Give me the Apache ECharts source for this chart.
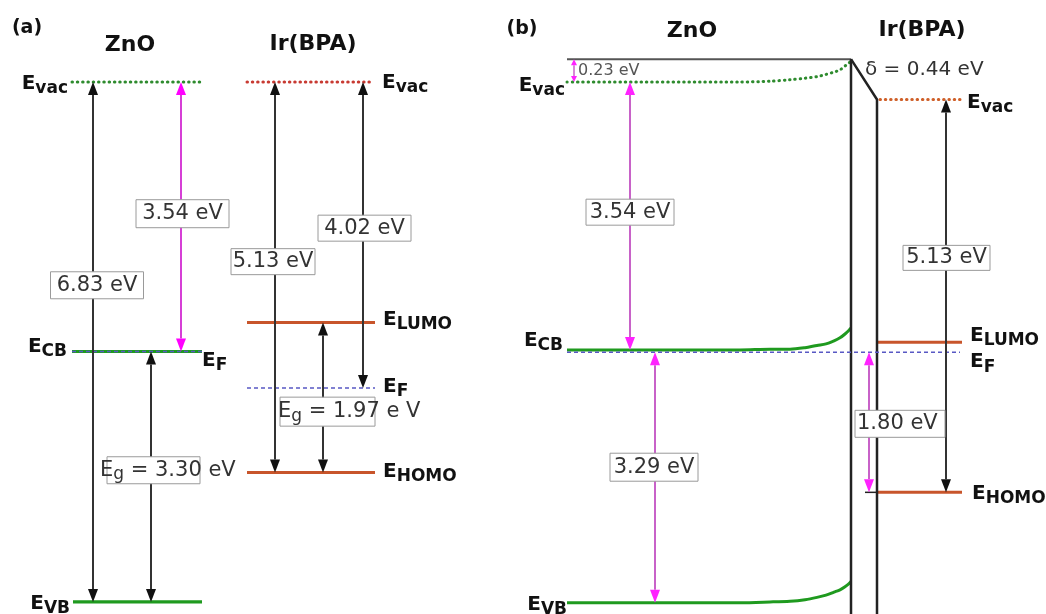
<!DOCTYPE html>
<html><head><meta charset="utf-8">
<script src="https://cdn.jsdelivr.net/npm/echarts@6/dist/echarts.min.js"></script>
<style>html,body{margin:0;padding:0;background:#fff}#c{width:1046px;height:614px}</style>
</head><body><div id="c"></div>
<script>
// ---------------- DATA (energies in eV, relative to the ZnO vacuum level) ----------------
// Panel (a): isolated materials
const aZnOLevels = [0, -3.54, -3.54, -6.83];   // Evac, ECB, EF, EVB
const aIrLevels  = [0, -3.16, -4.02, -5.13];   // Evac, ELUMO, EF, EHOMO
// Panel (b): after contact
const bSurfaceVac = 0.30;                       // vacuum level at the interface
const bBendX   = [567, 740, 770, 790, 805, 817, 826, 834, 840, 845, 849, 851];
const bZnOEvac = [0, 0, 0.01, 0.03, 0.05, 0.07, 0.10, 0.13, 0.16, 0.21, 0.25, 0.28];
const bZnOEcb  = [-3.52, -3.52, -3.51, -3.51, -3.49, -3.46, -3.44, -3.40, -3.36, -3.31, -3.26, -3.23];
const bZnOEvb  = [-6.84, -6.84, -6.83, -6.82, -6.80, -6.77, -6.74, -6.70, -6.67, -6.63, -6.59, -6.56];
const bEf      = -3.55;
const bIrLevels = [-0.23, -3.42, -5.39];        // Evac, ELUMO, EHOMO
// Annotation texts
const gapTextsA = ['6.83 eV', '3.54 eV', ' = 3.30 eV', '5.13 eV', '4.02 eV', ' = 1.97 e V'];
const gapTextsB = ['3.54 eV', '3.29 eV', '5.13 eV', '1.80 eV'];
const smallTextsB = ['0.23 eV', 'δ = 0.44 eV'];
const titles = ['(a)', 'ZnO', 'Ir(BPA)', '(b)', 'ZnO', 'Ir(BPA)'];

// ---------------- LAYOUT / STYLE ----------------
const W = 1046, H = 614, PX_PER_EV = 76.13, VAC_Y = 82;
const Y_MAX = VAC_Y / PX_PER_EV, Y_MIN = -(H - VAC_Y) / PX_PER_EV;
const F = "'DejaVu Sans', 'Liberation Sans', sans-serif";
const GREEN = '#1f9a1f', GREEN_DOT = '#2e8b2e', ORANGE = '#c8552b', RED_DOT = '#c83a32',
      ORANGE_DOT = '#cf5f28', BLUE = '#5858c4', BLACK = '#222';
const MAG_A = {line: '#d63fd6', head: '#f0f'}, MAG_B = {line: '#c862c8', head: '#f2f'},
      BLK = {line: '#333', head: '#111'};

const solid = (c, w) => ({color: c, width: w});
const dotted = c => ({color: c, width: 3, type: [0.5, 4.8], cap: 'round'});
const dashed = c => ({color: c, width: 1.6, type: [4, 3]});

function lineS(data, style, z, smooth) {
  return {type: 'line', data, symbol: 'none', lineStyle: style, silent: true, animation: false,
          z: z || 2, smooth: smooth ? 0.3 : false, clip: false};
}
function hline(x1, x2, e, style, z) { return lineS([[x1, e], [x2, e]], style, z); }

const series = [];
// ---- panel (a) levels
series.push(hline(72, 202, aZnOLevels[0], dotted(GREEN_DOT)));
series.push(hline(72, 202, aZnOLevels[1], solid(GREEN, 3)));
series.push(hline(72, 202, aZnOLevels[2], dashed(BLUE), 3));
series.push(hline(73, 202, aZnOLevels[3], solid(GREEN, 3.2)));
series.push(hline(247, 374, aIrLevels[0], dotted(RED_DOT)));
series.push(hline(247, 375, aIrLevels[1], solid(ORANGE, 3)));
series.push(hline(247, 375, aIrLevels[2], dashed(BLUE), 3));
series.push(hline(247, 375, aIrLevels[3], solid(ORANGE, 3)));
// ---- panel (b) levels
series.push(hline(567, 851, bSurfaceVac, solid('#555', 2)));
series.push(lineS(bBendX.map((x, i) => [x, bZnOEvac[i]]), dotted(GREEN_DOT), 2, true));
series.push(lineS(bBendX.map((x, i) => [x, bZnOEcb[i]]), solid(GREEN, 3), 2, true));
series.push(lineS(bBendX.map((x, i) => [x, bZnOEvb[i]]), solid(GREEN, 3), 2, true));
series.push(lineS([[851, bSurfaceVac], [851, Y_MIN]], solid(BLACK, 2.5), 4));
series.push(lineS([[851, bSurfaceVac], [877, bIrLevels[0]], [877, Y_MIN]], solid(BLACK, 2.5), 4));
series.push(hline(880, 960, bIrLevels[0], dotted(ORANGE_DOT)));
series.push(hline(878, 962, bIrLevels[1], solid(ORANGE, 3)));
series.push(hline(878, 962, bIrLevels[2], solid(ORANGE, 3)));
series.push(hline(865, 877, bIrLevels[2], solid(BLACK, 1.5)));
series.push(hline(567, 960, bEf, dashed(BLUE), 5));

// ---- arrows (double headed)
const arrows = [
  {x: 93,  e1: aZnOLevels[0], e2: aZnOLevels[3], c: BLK},
  {x: 181, e1: aZnOLevels[0], e2: aZnOLevels[1], c: MAG_A},
  {x: 151, e1: aZnOLevels[1], e2: aZnOLevels[3], c: BLK},
  {x: 275, e1: aIrLevels[0], e2: aIrLevels[3], c: BLK},
  {x: 363, e1: aIrLevels[0], e2: aIrLevels[2], c: BLK},
  {x: 323, e1: aIrLevels[1], e2: aIrLevels[3], c: BLK},
  {x: 574, e1: bSurfaceVac, e2: bZnOEvac[0], c: MAG_B, small: true},
  {x: 630, e1: bZnOEvac[0], e2: bZnOEcb[0], c: MAG_B},
  {x: 655, e1: bEf, e2: bZnOEvb[0], c: MAG_B},
  {x: 946, e1: bIrLevels[0], e2: bIrLevels[2], c: BLK},
  {x: 869, e1: bEf, e2: bIrLevels[2], c: MAG_B}
];
function head(p, q, L, Wd) {
  const dx = p[0] - q[0], dy = p[1] - q[1], len = Math.hypot(dx, dy) || 1;
  const ux = dx / len, uy = dy / len, bx = p[0] - ux * L, by = p[1] - uy * L;
  const nx = -uy * Wd / 2, ny = ux * Wd / 2;
  return [[p[0], p[1]], [bx + nx, by + ny], [bx - nx, by - ny]];
}
series.push({
  type: 'custom', silent: true, animation: false, z: 6, clip: false,
  data: arrows.map(a => [a.x, a.e1, a.e2]),
  encode: {x: 0, y: [1, 2]},
  renderItem(params, api) {
    const a = arrows[params.dataIndex];
    const p1 = api.coord([api.value(0), api.value(1)]);
    const p2 = api.coord([api.value(0), api.value(2)]);
    const L = a.small ? 6 : 13, Wd = a.small ? 6 : 10;
    const h1 = head(p1, p2, L, Wd), h2 = head(p2, p1, L, Wd);
    const mid1 = [(h1[1][0] + h1[2][0]) / 2, (h1[1][1] + h1[2][1]) / 2];
    const mid2 = [(h2[1][0] + h2[2][0]) / 2, (h2[1][1] + h2[2][1]) / 2];
    return {type: 'group', children: [
      {type: 'line', shape: {x1: mid1[0], y1: mid1[1], x2: mid2[0], y2: mid2[1]},
       style: {stroke: a.c.line, lineWidth: a.small ? 1.5 : 2}},
      {type: 'polygon', shape: {points: h1}, style: {fill: a.c.head}},
      {type: 'polygon', shape: {points: h2}, style: {fill: a.c.head}}
    ]};
  }
});

// ---- boxed value labels
const boxRich = {
  n: {fontSize: 21, fontFamily: F, fill: '#333'},
  g: {fontSize: 17, fontFamily: F, fill: '#333', padding: [9, 0, 0, 0]}
};
const boxes = [
  {x: 97,    e: -2.67, w: 93, h: 27, t: '{n|' + gapTextsA[0] + '}'},
  {x: 182.5, e: -1.73, w: 93, h: 28, t: '{n|' + gapTextsA[1] + '}'},
  {x: 153.5, e: -5.10, w: 93, h: 27, t: '{n|E}{g|g}{n|' + gapTextsA[2] + '}', tx: 100},
  {x: 273,   e: -2.36, w: 84, h: 26, t: '{n|' + gapTextsA[3] + '}'},
  {x: 364.5, e: -1.92, w: 93, h: 26, t: '{n|' + gapTextsA[4] + '}'},
  {x: 327.5, e: -4.33, w: 95, h: 29, t: '{n|E}{g|g}{n|' + gapTextsA[5] + '}', tx: 278},
  {x: 630,   e: -1.71, w: 88, h: 26, t: '{n|' + gapTextsB[0] + '}'},
  {x: 654,   e: -5.06, w: 88, h: 28, t: '{n|' + gapTextsB[1] + '}'},
  {x: 946.5, e: -2.31, w: 87, h: 25, t: '{n|' + gapTextsB[2] + '}'},
  {x: 900,   e: -4.49, w: 90, h: 27, t: '{n|' + gapTextsB[3] + '}', tx: 857}
];
series.push({
  type: 'custom', silent: true, animation: false, z: 8, clip: false,
  data: boxes.map(b => [b.x, b.e]),
  renderItem(params, api) {
    const b = boxes[params.dataIndex];
    const p = api.coord([api.value(0), api.value(1)]);
    const left = b.tx !== undefined;
    return {type: 'group', children: [
      {type: 'rect', shape: {x: p[0] - b.w / 2, y: p[1] - b.h / 2, width: b.w, height: b.h},
       style: {fill: '#fff', stroke: '#9a9a9a', lineWidth: 1}},
      {type: 'text', x: left ? b.tx : p[0], y: p[1],
       style: {text: b.t, rich: boxRich, align: left ? 'left' : 'center', verticalAlign: 'middle'}}
    ]};
  }
});

// ---- level labels (E with subscript)
const lvRich = {
  E: {fontSize: 20, fontWeight: 'bold', fontFamily: F, fill: '#111'},
  s: {fontSize: 17, fontWeight: 'bold', fontFamily: F, fill: '#111', padding: [10, 0, 0, 0]}
};
const levelLabels = [
  {x: 68,  e: aZnOLevels[0], dy: 0,    s: 'vac',  al: 'right'},
  {x: 67,  e: aZnOLevels[1], dy: -7,   s: 'CB',   al: 'right'},
  {x: 202, e: aZnOLevels[2], dy: 7,    s: 'F',    al: 'left'},
  {x: 70,  e: aZnOLevels[3], dy: 0,    s: 'VB',   al: 'right'},
  {x: 382, e: aIrLevels[0],  dy: -1.5, s: 'vac',  al: 'left'},
  {x: 383, e: aIrLevels[1],  dy: -5,   s: 'LUMO', al: 'left'},
  {x: 383, e: aIrLevels[2],  dy: -3.5, s: 'F',    al: 'left'},
  {x: 383, e: aIrLevels[3],  dy: -2.5, s: 'HOMO', al: 'left'},
  {x: 565, e: bZnOEvac[0],   dy: 1.5,  s: 'vac',  al: 'right'},
  {x: 563, e: bZnOEcb[0],    dy: -11.5,s: 'CB',   al: 'right'},
  {x: 567, e: bZnOEvb[0],    dy: 0,    s: 'VB',   al: 'right'},
  {x: 967, e: bIrLevels[0],  dy: 1.5,  s: 'vac',  al: 'left'},
  {x: 970, e: bIrLevels[1],  dy: -9,   s: 'LUMO', al: 'left'},
  {x: 970, e: bEf,           dy: 8,    s: 'F',    al: 'left'},
  {x: 972, e: bIrLevels[2],  dy: -1,   s: 'HOMO', al: 'left'}
];
// plain texts anchored to levels
const plainTexts = [
  {x: 578, e: bZnOEvac[0], dy: -11, t: smallTextsB[0], size: 16, color: '#555'},
  {x: 865, e: bSurfaceVac, dy: 11,  t: smallTextsB[1], size: 20, color: '#333'}
];
series.push({
  type: 'custom', silent: true, animation: false, z: 9, clip: false,
  data: levelLabels.map(l => [l.x, l.e]),
  renderItem(params, api) {
    const l = levelLabels[params.dataIndex];
    const p = api.coord([api.value(0), api.value(1)]);
    return {type: 'text', x: p[0], y: p[1] + l.dy + 2,
      style: {text: '{E|E}{s|' + l.s + '}', rich: lvRich, align: l.al, verticalAlign: 'middle'}};
  }
});
series.push({
  type: 'custom', silent: true, animation: false, z: 9, clip: false,
  data: plainTexts.map(l => [l.x, l.e]),
  renderItem(params, api) {
    const l = plainTexts[params.dataIndex];
    const p = api.coord([api.value(0), api.value(1)]);
    return {type: 'text', x: p[0], y: p[1] + l.dy,
      style: {text: l.t, fontSize: l.size, fontFamily: F, fill: l.color, align: 'left', verticalAlign: 'middle'}};
  }
});

// ---- titles
const titlePos = [[27, 28, 19], [130, 45, 22], [313, 44, 22], [522, 29, 19], [692, 31, 22], [922, 30, 22]];
const graphic = titles.map((t, i) => ({
  type: 'text', x: titlePos[i][0], y: titlePos[i][1], silent: true,
  style: {text: t, fontSize: titlePos[i][2], fontWeight: 'bold', fontFamily: F, fill: '#111',
          align: 'center', verticalAlign: 'middle'}
}));

const chart = echarts.init(document.getElementById('c'), null, {renderer: 'canvas'});
chart.setOption({
  animation: false,
  backgroundColor: '#fff',
  grid: {left: 0, right: 0, top: 0, bottom: 0, containLabel: false},
  xAxis: {type: 'value', min: 0, max: W, show: false},
  yAxis: {type: 'value', min: Y_MIN, max: Y_MAX, show: false},
  graphic,
  series
});
</script></body></html>
